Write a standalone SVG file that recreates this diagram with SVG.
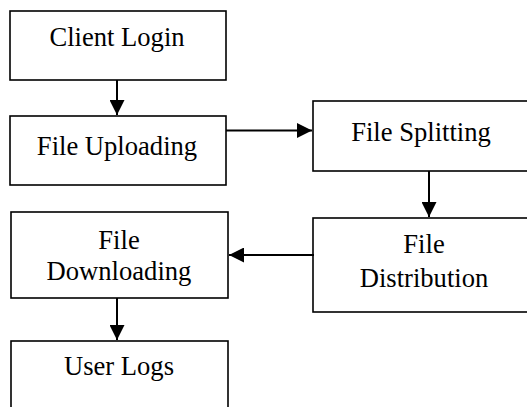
<svg xmlns="http://www.w3.org/2000/svg" width="527" height="407" viewBox="0 0 527 407">
<style>
.box{fill:#fff;stroke:#000;stroke-width:1.6}
.t{font-family:"Liberation Serif","Times New Roman",serif;font-size:26.6px;fill:#000;text-anchor:middle}
.c{stroke:#000;stroke-width:2;fill:none}
</style>
<defs>
<marker id="ah" viewBox="0 0 10 10" refX="10" refY="5" markerUnits="userSpaceOnUse" markerWidth="15" markerHeight="15" orient="auto" preserveAspectRatio="none">
<path d="M0,0 L10,5 L0,10 Z" fill="#000"/>
</marker>
</defs>
<rect width="527" height="407" fill="#fff"/>
<g id="client-login"><rect class="box" x="10" y="11" width="216" height="69"/><text class="t" x="117" y="46">Client Login</text></g>
<g id="file-uploading"><rect class="box" x="10" y="116" width="216" height="69"/><text class="t" x="117" y="155">File Uploading</text></g>
<g id="file-splitting"><rect class="box" x="313" y="101" width="230" height="70"/><text class="t" x="421" y="141">File Splitting</text></g>
<g id="file-distribution"><rect class="box" x="313" y="218" width="230" height="94"/><text class="t" x="424" y="253">File</text><text class="t" x="424" y="287">Distribution</text></g>
<g id="file-downloading"><rect class="box" x="11" y="212" width="217" height="86"/><text class="t" x="119" y="249">File</text><text class="t" x="119" y="280">Downloading</text></g>
<g id="user-logs"><rect class="box" x="11" y="341" width="217" height="100"/><text class="t" x="119" y="375">User Logs</text></g>
<g id="connectors">
<line class="c" x1="117" y1="80" x2="117" y2="115" marker-end="url(#ah)"/>
<line class="c" x1="226" y1="130.5" x2="312" y2="130.5" marker-end="url(#ah)"/>
<line class="c" x1="429" y1="171" x2="429" y2="217" marker-end="url(#ah)"/>
<line class="c" x1="314" y1="255" x2="229" y2="255" marker-end="url(#ah)"/>
<line class="c" x1="117" y1="298" x2="117" y2="340" marker-end="url(#ah)"/>
</g>
</svg>
